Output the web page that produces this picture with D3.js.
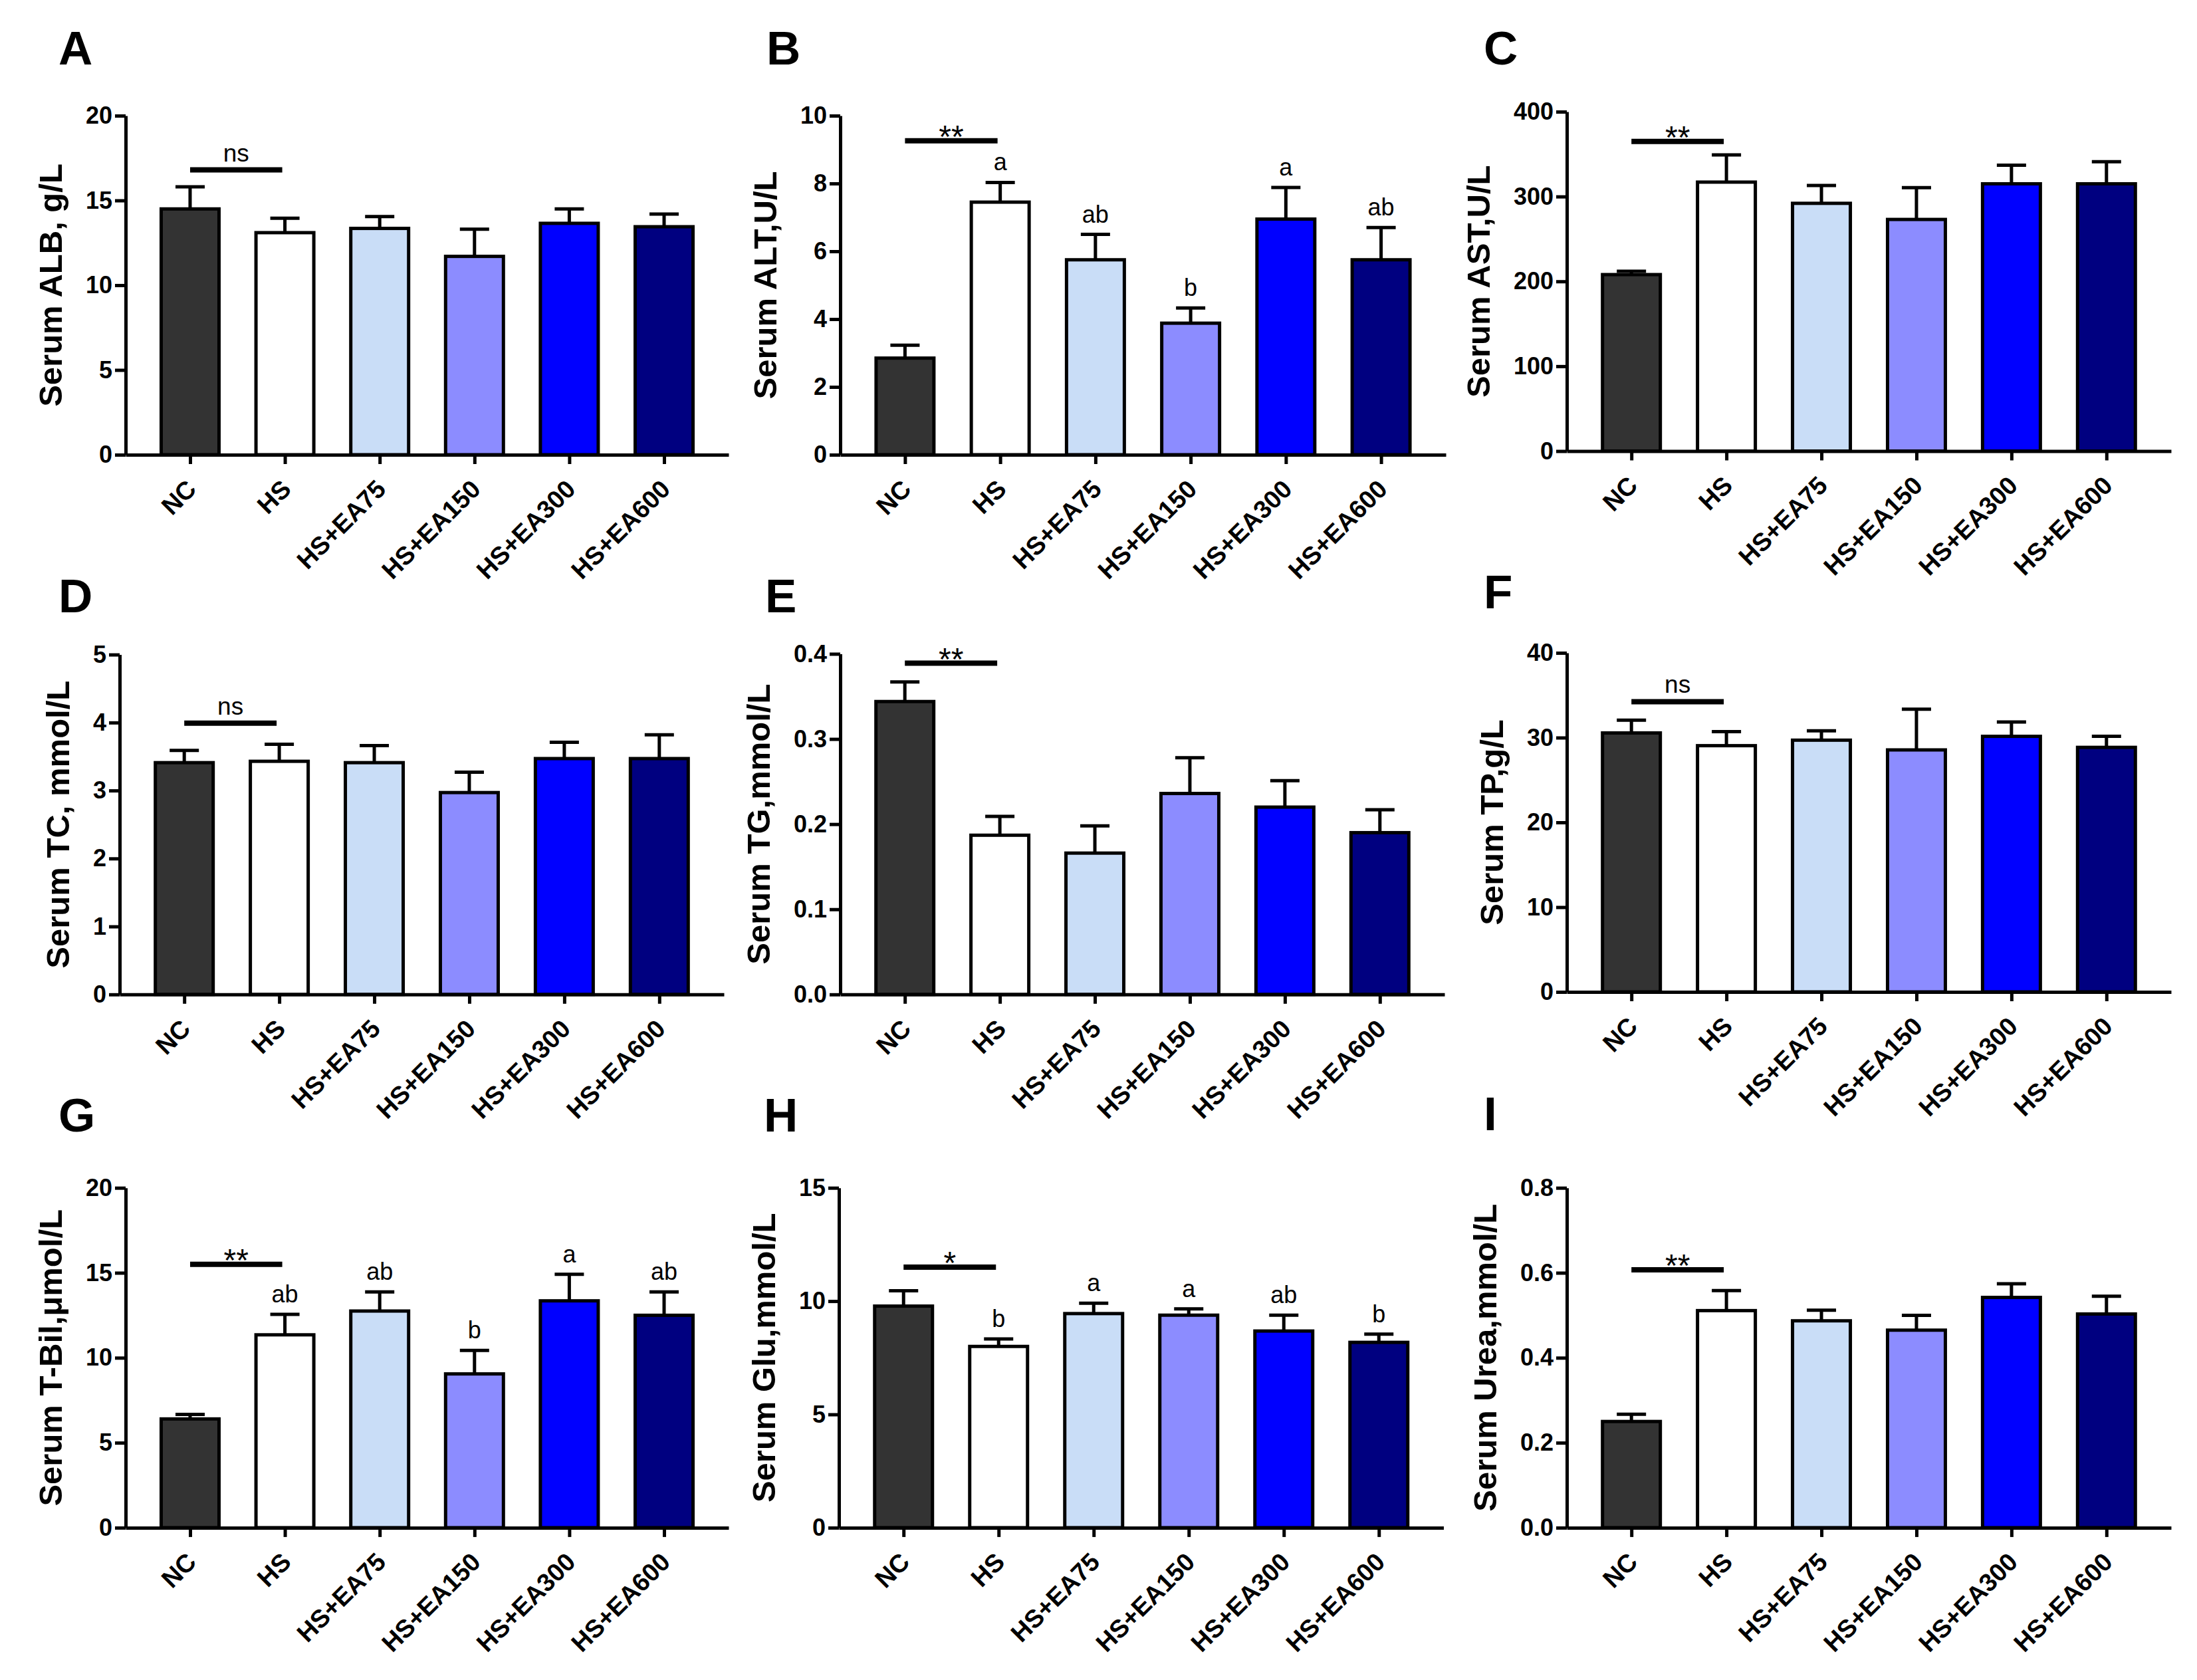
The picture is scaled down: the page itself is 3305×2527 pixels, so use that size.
<!DOCTYPE html>
<html>
<head>
<meta charset="utf-8">
<script src="https://cdn.jsdelivr.net/npm/d3@7/dist/d3.min.js"></script>
<style>
    body { margin: 0; background: #fff; }
    svg { font-family: "Liberation Sans", Arial, sans-serif; }
    .axis path, .axis line { stroke: #000; stroke-width: 5px; }
    .axis text { fill: #000; font-weight: bold; }
    .ytick text { font-size: 36px; }
    .xtick text { font-size: 38px; }
    .ytitle { font-size: 49px; font-weight: bold; }
    .panel-letter { font-size: 71px; font-weight: bold; }
    .bar { stroke: #000; stroke-width: 5px; }
    .err { stroke: #000; stroke-width: 5px; fill: none; }
    .sigbar { stroke: #000; stroke-width: 8px; }
    .note { font-size: 36px; text-anchor: middle; }
</style>
</head>
<body>
<svg id="fig" width="3305" height="2527"></svg>
<script>
// groups and fill colours
var groups = ["NC", "HS", "HS+EA75", "HS+EA150", "HS+EA300", "HS+EA600"];
var groupColors = ["#333333", "#ffffff", "#c9ddf7", "#8c8cff", "#0000ff", "#000080"];

// panels
var panelIds = ["A", "B", "C", "D", "E", "F", "G", "H", "I"];
var yTitles = ["Serum ALB, g/L", "Serum ALT,U/L", "Serum AST,U/L",
               "Serum TC, mmol/L", "Serum TG,mmol/L", "Serum TP,g/L",
               "Serum T-Bil,\u03bcmol/L", "Serum Glu,mmol/L", "Serum Urea,mmol/L"];
var yMax = [20, 10, 400, 5, 0.4, 40, 20, 15, 0.8];
var yStep = [5, 2, 100, 1, 0.1, 10, 5, 5, 0.2];
var yDecimals = [0, 0, 0, 0, 1, 0, 0, 0, 1];

// means (one value per group)
var meanALB  = [14.5, 13.1, 13.35, 11.7, 13.65, 13.45];
var meanALT  = [2.85, 7.45, 5.75, 3.88, 6.95, 5.75];
var meanAST  = [208, 317, 292, 273, 315, 315];
var meanTC   = [3.41, 3.43, 3.41, 2.97, 3.47, 3.47];
var meanTG   = [0.344, 0.187, 0.166, 0.236, 0.220, 0.190];
var meanTP   = [30.55, 29.05, 29.7, 28.55, 30.15, 28.85];
var meanTBil = [6.4, 11.35, 12.75, 9.05, 13.35, 12.5];
var meanGlu  = [9.78, 8.0, 9.45, 9.38, 8.68, 8.18];
var meanUrea = [0.250, 0.511, 0.487, 0.465, 0.542, 0.503];

// SEM (upper error bars only)
var semALB  = [1.3, 0.85, 0.7, 1.6, 0.85, 0.75];
var semALT  = [0.38, 0.58, 0.75, 0.45, 0.93, 0.95];
var semAST  = [4, 32, 21, 37.5, 22, 26];
var semTC   = [0.18, 0.25, 0.25, 0.30, 0.24, 0.35];
var semTG   = [0.023, 0.022, 0.032, 0.042, 0.031, 0.027];
var semTP   = [1.5, 1.65, 1.1, 4.8, 1.7, 1.3];
var semTBil = [0.27, 1.2, 1.13, 1.38, 1.56, 1.38];
var semGlu  = [0.68, 0.33, 0.46, 0.28, 0.7, 0.36];
var semUrea = [0.017, 0.047, 0.025, 0.035, 0.032, 0.042];

// NC vs HS comparison: label and the level of the bar
var sigLabels = ["ns", "**", "**", "ns", "**", "ns", "**", "*", "**"];
var sigLevels = [16.8, 9.26, 365, 3.99, 0.389, 34.24, 15.5, 11.5, 0.607];

// letters of multiple comparison
var lettersALT  = ["", "a", "ab", "b", "a", "ab"];
var lettersTBil = ["", "ab", "ab", "b", "a", "ab"];
var lettersGlu  = ["", "b", "a", "a", "ab", "b"];
var noLetters   = ["", "", "", "", "", ""];

var means = [meanALB, meanALT, meanAST, meanTC, meanTG, meanTP, meanTBil, meanGlu, meanUrea];
var sems = [semALB, semALT, semAST, semTC, semTG, semTP, semTBil, semGlu, semUrea];
var letters = [noLetters, lettersALT, noLetters, noLetters, noLetters, noLetters,
               lettersTBil, lettersGlu, noLetters];

// page layout of each panel: y-axis x, top and zero of the y axis, end of x axis, letter position
var layout = [
    {ax: 189,  top: 174,   zero: 684,    xEnd: 1096,   lx: 88,   ly: 97},
    {ax: 1264, top: 174,   zero: 684,    xEnd: 2175,   lx: 1153, ly: 97},
    {ax: 2357, top: 168,   zero: 678.5,  xEnd: 3266,   lx: 2232, ly: 97},
    {ax: 180,  top: 984.6, zero: 1495.8, xEnd: 1089,   lx: 88,   ly: 921},
    {ax: 1264, top: 983.5, zero: 1495.8, xEnd: 2173,   lx: 1151, ly: 921},
    {ax: 2357, top: 982,   zero: 1492,   xEnd: 3266,   lx: 2232, ly: 915},
    {ax: 189,  top: 1786.7, zero: 2297.9, xEnd: 1096,  lx: 88,   ly: 1702},
    {ax: 1262, top: 1786.7, zero: 2297.9, xEnd: 2171.5, lx: 1149, ly: 1702},
    {ax: 2357, top: 1786.7, zero: 2297.9, xEnd: 3266,  lx: 2232, ly: 1700}
];

var svg = d3.select("#fig");
var barW = 87, capW = 44, letterGap = 18;

panelIds.forEach(function(id, p) {
    var L = layout[p];
    var g = svg.append("g").attr("class", "panel");

    var x = d3.scalePoint().domain(groups).range([L.ax, L.xEnd]).padding(0.68);
    var y = d3.scaleLinear().domain([0, yMax[p]]).range([L.zero, L.top]);

    var rows = groups.map(function(name, i) {
        return {name: name, mean: means[p][i], sem: sems[p][i], letter: letters[p][i], color: groupColors[i]};
    });

    // bars
    g.selectAll("rect.bar").data(rows).enter().append("rect")
        .attr("class", "bar")
        .attr("x", function(d) { return x(d.name) - barW / 2; })
        .attr("width", barW)
        .attr("y", function(d) { return y(d.mean); })
        .attr("height", function(d) { return y(0) - y(d.mean); })
        .attr("fill", function(d) { return d.color; });

    // error bars
    g.selectAll("path.err").data(rows).enter().append("path")
        .attr("class", "err")
        .attr("d", function(d) {
            var cx = x(d.name), t = y(d.mean + d.sem);
            return "M" + cx + "," + y(d.mean) + "V" + t +
                   "M" + (cx - capW / 2) + "," + t + "H" + (cx + capW / 2);
        });

    // letters above error bars
    g.selectAll("text.letter").data(rows.filter(function(d) { return d.letter; }))
        .enter().append("text")
        .attr("class", "note")
        .attr("x", function(d) { return x(d.name); })
        .attr("y", function(d) { return y(d.mean + d.sem) - letterGap; })
        .text(function(d) { return d.letter; });

    // NC vs HS bar
    var sx1 = x(groups[0]), sx2 = x(groups[1]) - 4, sy = y(sigLevels[p]);
    g.append("line").attr("class", "sigbar")
        .attr("x1", sx1).attr("x2", sx2).attr("y1", sy).attr("y2", sy);
    var star = sigLabels[p].indexOf("*") >= 0;
    g.append("text").attr("class", "note")
        .attr("x", (sx1 + sx2) / 2)
        .attr("y", star ? sy + 10 : sy - 13)
        .style("font-size", star ? "48px" : "37px")
        .text(sigLabels[p]);

    // axes
    var ticks = d3.range(0, yMax[p] + yStep[p] / 2, yStep[p]);
    var ya = g.append("g").attr("class", "axis ytick")
        .attr("transform", "translate(" + L.ax + ",0)")
        .call(d3.axisLeft(y).tickValues(ticks).tickSize(16).tickSizeOuter(0)
            .tickPadding(4).tickFormat(d3.format("." + yDecimals[p] + "f")));

    g.append("g").attr("class", "axis xtick")
        .attr("transform", "translate(0," + L.zero + ")")
        .call(d3.axisBottom(x).tickSize(14).tickSizeOuter(0))
        .selectAll("text")
        .attr("text-anchor", "end")
        .attr("dy", null)
        .attr("y", null)
        .attr("transform", "translate(11,54) rotate(-45)");

    // y title placed left of the widest tick label
    var minX = d3.min(ya.selectAll("text").nodes(), function(n) { return n.getBBox().x; });
    var titleX = L.ax - 16 - 4 + minX - 16;
    g.append("text").attr("class", "ytitle")
        .attr("text-anchor", "middle")
        .attr("transform", "translate(" + titleX + "," + ((L.top + L.zero) / 2) + ") rotate(-90)")
        .text(yTitles[p]);

    // panel letter
    g.append("text").attr("class", "panel-letter")
        .attr("x", L.lx).attr("y", L.ly)
        .text(id);
});
</script>
</body>
</html>
